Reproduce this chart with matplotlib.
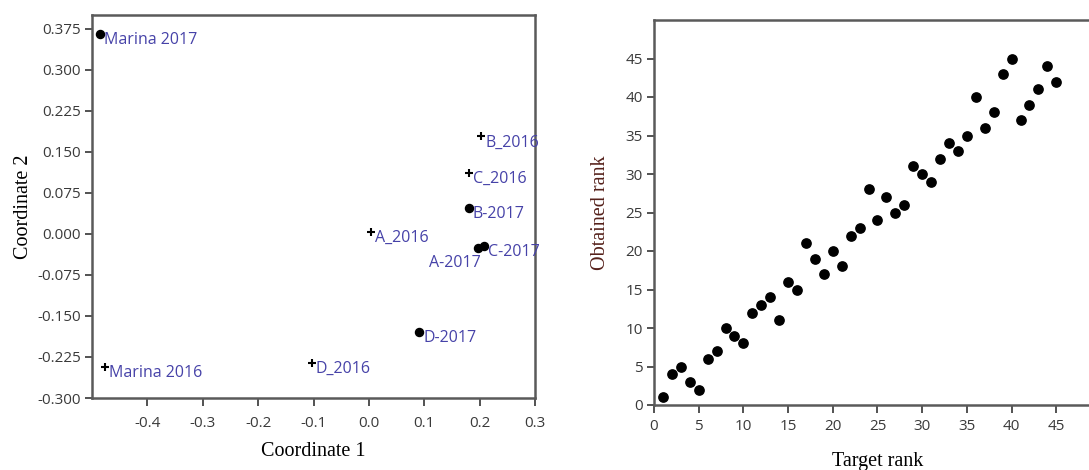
import matplotlib
matplotlib.use('Agg')
import matplotlib.pyplot as plt

# MDS coordinates of the sites (2016 = plus, 2017 = dot)
sites_2016 = ['Marina 2016', 'A_2016', 'B_2016', 'C_2016', 'D_2016']
coord1_2016 = [-0.477, 0.004, 0.203, 0.180, -0.103]
coord2_2016 = [-0.243, 0.004, 0.178, 0.112, -0.236]

sites_2017 = ['Marina 2017', 'A-2017', 'B-2017', 'C-2017', 'D-2017']
coord1_2017 = [-0.486, 0.197, 0.180, 0.207, 0.091]
coord2_2017 = [0.366, -0.025, 0.048, -0.022, -0.179]

# rank comparison
target_rank = list(range(1, 46))
obtained_rank = [1, 4, 5, 3, 2, 6, 7, 10, 9, 8, 12, 13, 14, 11, 16, 15, 21, 19, 17, 20,
                 18, 22, 23, 28, 24, 27, 25, 26, 31, 30, 29, 32, 34, 33, 35, 40, 36, 38,
                 43, 45, 37, 39, 41, 44, 42]

xticks_left = [-0.4, -0.3, -0.2, -0.1, 0.0, 0.1, 0.2, 0.3]
yticks_left = [-0.300, -0.225, -0.150, -0.075, 0.000, 0.075, 0.150, 0.225, 0.300, 0.375]
ticks_right = [0, 5, 10, 15, 20, 25, 30, 35, 40, 45]

label_col = '#4642a8'
spine_col = '#5a5a5a'
tick_font = 'Open Sans'
axis_font = 'Liberation Serif'

fig = plt.figure(figsize=(10.89, 4.70), dpi=100)


def style_axes(ax, xpad, ypad):
    for s in ax.spines.values():
        s.set_color(spine_col)
        s.set_linewidth(1.8)
    ax.tick_params(direction='out', length=5, width=1.3, color='#444444',
                   labelsize=11, labelcolor='#3a3a3a')
    ax.tick_params(axis='x', pad=xpad, length=6)
    ax.tick_params(axis='y', pad=ypad)
    for lab in ax.get_xticklabels() + ax.get_yticklabels():
        lab.set_fontfamily(tick_font)


# left panel: ordination
ax1 = fig.add_axes([92 / 1089, 1 - 398 / 470, 443 / 1089, 383 / 470])
ax1.plot(coord1_2016, coord2_2016, '+', color='black', markersize=6, mew=1.5)
ax1.plot(coord1_2017, coord2_2017, 'o', color='black', markersize=5.8)

for name, x, y in zip(sites_2016 + sites_2017, coord1_2016 + coord1_2017,
                      coord2_2016 + coord2_2017):
    if name == 'A-2017':
        ax1.annotate(name, (x, y), xytext=(3, -15), textcoords='offset pixels',
                     ha='right', va='center', color=label_col, fontsize=11.5,
                     family=tick_font)
    else:
        ax1.annotate(name, (x, y), xytext=(4, -6), textcoords='offset pixels',
                     ha='left', va='center', color=label_col, fontsize=11.5,
                     family=tick_font)

ax1.set_xlim(-0.5, 0.3)
ax1.set_ylim(-0.3, 0.4)
ax1.set_xticks(xticks_left)
ax1.set_xticklabels(['%.1f' % v for v in xticks_left])
ax1.set_yticks(yticks_left)
ax1.set_yticklabels(['%.3f' % v for v in yticks_left])
style_axes(ax1, 7, 3)
ax1.set_xlabel('Coordinate 1', family=axis_font, fontsize=14.5, labelpad=8)
ax1.set_ylabel('Coordinate 2', family=axis_font, fontsize=14.5, labelpad=3)

# right panel: target vs obtained rank
ax2 = fig.add_axes([654 / 1089, 1 - 405 / 470, 447 / 1089, 385 / 470])
ax2.plot(target_rank, obtained_rank, 'o', color='black', markersize=6.7)
ax2.set_xlim(0, 50)
ax2.set_ylim(0, 50)
ax2.set_xticks(ticks_right)
ax2.set_yticks(ticks_right)
style_axes(ax2, 4, 3)
ax2.set_xlabel('Target rank', family=axis_font, fontsize=14.5, labelpad=13)
ax2.set_ylabel('Obtained rank', family=axis_font, fontsize=14.5, labelpad=11,
               color='#55201a')

fig.savefig('out.png', dpi=100)
